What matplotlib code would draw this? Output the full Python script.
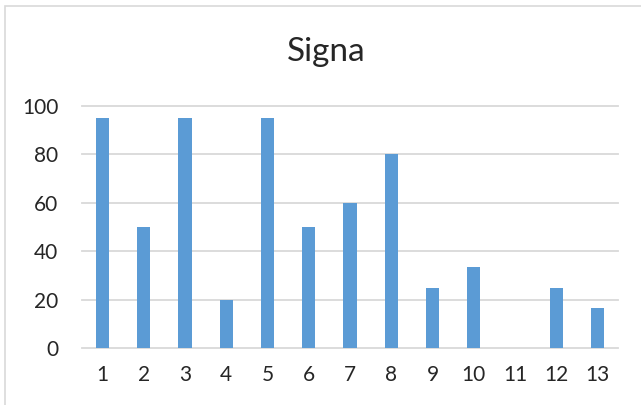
import matplotlib
matplotlib.use('Agg')
import matplotlib.pyplot as plt
from matplotlib.patches import Rectangle

categories = ['1', '2', '3', '4', '5', '6', '7', '8', '9', '10', '11', '12', '13']
values = [95, 50, 95, 20, 95, 50, 60, 80, 25, 33.3, 0, 25, 16.7]
yticks = [0, 20, 40, 60, 80, 100]

BAR = '#5b9bd5'
GRID = '#d9d9d9'
TXT = '#262626'

plt.rcParams['font.family'] = ['Lato', 'DejaVu Sans']

W, H = 641, 405
fig = plt.figure(figsize=(W / 100, H / 100), dpi=100)
fig.patch.set_facecolor('white')

# chart frame (clipped at right/bottom in the reference)
fig.patches.append(Rectangle((5 / W, -0.02), 1.1, 1 - 6 / H + 0.02,
                             transform=fig.transFigure, fill=False,
                             edgecolor=GRID, linewidth=1.2))

ax = fig.add_axes([82 / W, 1 - 348 / H, (618 - 82) / W, (348 - 106) / H])
xs = list(range(1, len(categories) + 1))
ax.bar(xs, values, width=0.32, color=BAR, zorder=3)
ax.set_xlim(0.5, len(categories) + 0.5)
ax.set_ylim(0, 100)
ax.set_xticks(xs)
ax.set_xticklabels(categories)
ax.set_yticks(yticks)
for s in ax.spines.values():
    s.set_visible(False)
ax.yaxis.grid(True, color=GRID, linewidth=1.3, zorder=0)
ax.tick_params(length=0, labelsize=15, colors=TXT)
ax.tick_params(axis='x', pad=12)
ax.tick_params(axis='y', pad=17)
for gl in ax.get_ygridlines():
    gl.set_clip_on(False)

fig.text(326 / W, 1 - 52 / H, 'Signa', ha='center', va='center',
         fontsize=24, color=TXT)

fig.savefig('out.png', dpi=100, facecolor='white')
